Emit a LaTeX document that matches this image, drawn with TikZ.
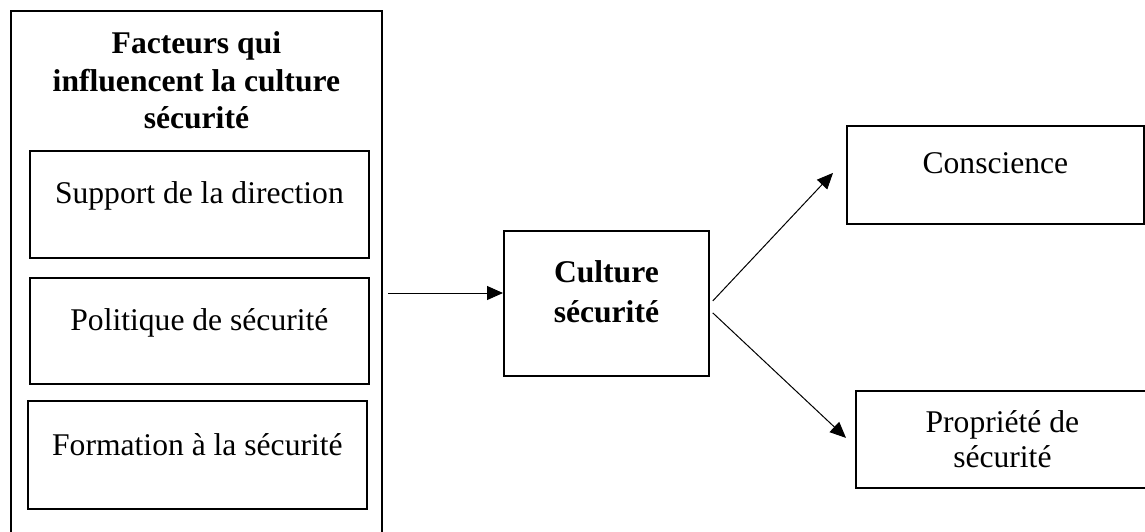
\documentclass[tikz,border=0pt]{standalone}
\usepackage{fontspec}
\setmainfont{Liberation Serif}
\usetikzlibrary{arrows.meta}

\begin{document}
\begin{tikzpicture}[x=0.5pt,y=-0.5pt,
    boite/.style={draw,line width=0.9pt,inner sep=0pt,align=center,anchor=north west,
      font=\fontsize{15.8}{18.5}\selectfont},
    boitegras/.style={boite,font=\fontsize{15.8}{18.75}\selectfont\bfseries},
    fleche/.style={-{Triangle[length=8pt,width=7pt]},line width=0.5pt}]
  \useasboundingbox (0,0) rectangle (1145,531);
  \node[boitegras,minimum width=185.5pt,text height=59pt,text depth=208.5pt] (facteurs) at (10,10)
    {Facteurs qui\\influencent la culture\\sécurité};
  \node[boite,minimum width=169.5pt,text height=26.5pt,text depth=27pt] (support) at (29,150)
    {Support de la direction};
  \node[boite,minimum width=169.5pt,text height=26.5pt,text depth=26.5pt] (politique) at (29,277)
    {Politique de sécurité};
  \node[boite,minimum width=169.5pt,text height=27.5pt,text depth=26.5pt] (formation) at (27,400)
    {Formation à la sécurité};
  \node[boitegras,minimum width=102.5pt,text height=46pt,text depth=26.5pt,
    font=\fontsize{15.8}{20}\selectfont\bfseries] (culture) at (503,230)
    {Culture\\sécurité};
  \node[boite,minimum width=148.5pt,text height=24pt,text depth=25pt] (conscience) at (846,125)
    {Conscience};
  \node[boite,minimum width=146.5pt,text height=38.5pt,text depth=10pt,
    font=\fontsize{15.8}{17.5}\selectfont] (propriete) at (855,390)
    {Propriété de\\sécurité};
  \coordinate (entree) at (388,293);
  \draw[fleche] (entree) -- (entree -| culture.west);
  \draw[fleche] ([shift={(3,-2.5)}]culture.east) -- ([shift={(-13,-2)}]conscience.west);
  \draw[fleche] ([shift={(3,9.5)}]culture.east) -- ([shift={(-9,-1.5)}]propriete.west);
\end{tikzpicture}
\end{document}
